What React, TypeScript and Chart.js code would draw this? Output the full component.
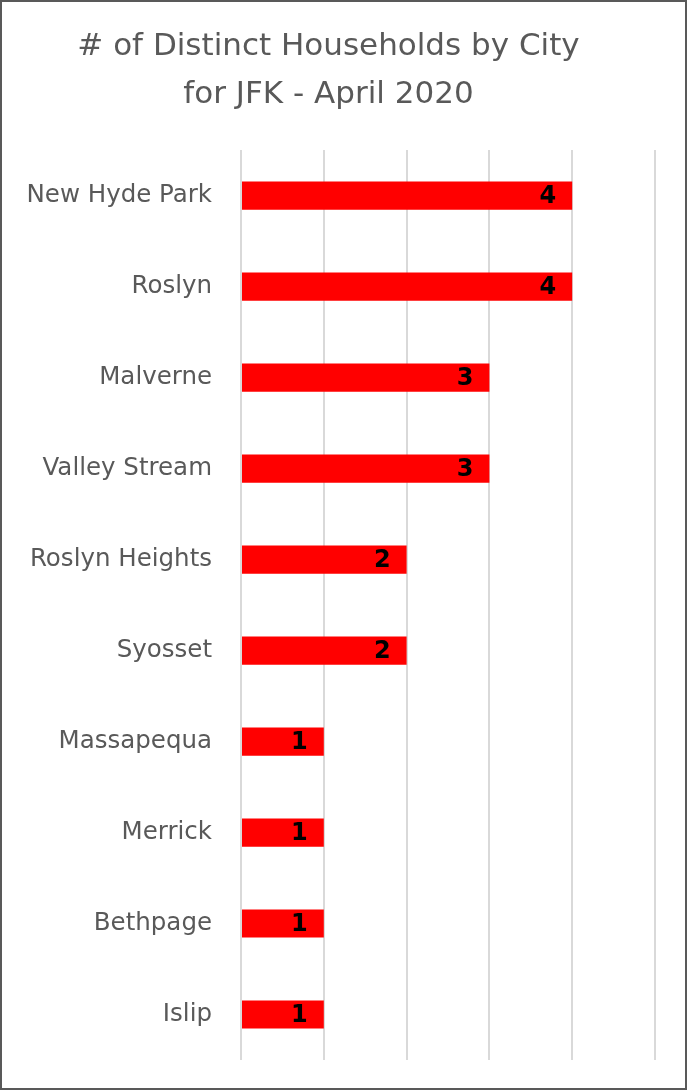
import React, { useEffect, useRef } from "react";
import { Chart, registerables } from "chart.js";

Chart.register(...registerables);

const titleLines = ["# of Distinct Households by City", "for JFK - April 2020"];
const cities = [
  "New Hyde Park",
  "Roslyn",
  "Malverne",
  "Valley Stream",
  "Roslyn Heights",
  "Syosset",
  "Massapequa",
  "Merrick",
  "Bethpage",
  "Islip",
];
const households = [4, 4, 3, 3, 2, 2, 1, 1, 1, 1];
const xMin = 0;
const xMax = 5;

const FONT = "'DejaVu Sans', sans-serif";

const dataLabelPlugin = {
  id: "dataLabelPlugin",
  afterDatasetsDraw(chart: any) {
    const ctx = chart.ctx;
    const meta = chart.getDatasetMeta(0);
    ctx.save();
    ctx.font = `bold 24px ${FONT}`;
    ctx.fillStyle = "#000000";
    ctx.textAlign = "right";
    ctx.textBaseline = "middle";
    meta.data.forEach((bar: any, i: number) => {
      ctx.fillText(String(households[i]), bar.x - 16, bar.y + 1);
    });
    ctx.restore();
  },
};

export default function App() {
  const ref = useRef<HTMLCanvasElement | null>(null);

  useEffect(() => {
    if (!ref.current) return;
    const chart = new Chart(ref.current, {
      type: "bar",
      data: {
        labels: cities,
        datasets: [
          {
            data: households,
            backgroundColor: "#FF0000",
            borderWidth: 0,
            categoryPercentage: 1,
            barPercentage: 0.31,
          },
        ],
      },
      options: {
        indexAxis: "y",
        animation: false,
        responsive: false,
        maintainAspectRatio: false,
        layout: { padding: { left: 0, right: 30, top: 0, bottom: 28 } },
        plugins: {
          legend: { display: false },
          tooltip: { enabled: false },
          title: {
            display: true,
            text: titleLines,
            color: "#595959",
            font: { family: FONT, size: 31, weight: "normal", lineHeight: 1.55 },
            padding: { top: 21, bottom: 31 },
          },
        },
        scales: {
          x: {
            min: xMin,
            max: xMax,
            ticks: { display: false, stepSize: 1 },
            grid: { color: "#d9d9d9", lineWidth: 2, drawTicks: false },
            border: { display: false },
            afterFit(scale: any) {
              scale.height = 0;
              scale.paddingLeft = 0;
              scale.paddingRight = 0;
            },
          },
          y: {
            ticks: {
              color: "#595959",
              font: { family: FONT, size: 24.5 },
              padding: 29,
              autoSkip: false,
            },
            grid: { display: false, drawTicks: false },
            border: { display: false },
            afterFit(scale: any) {
              scale.width = 239;
              scale.paddingTop = 0;
              scale.paddingBottom = 0;
            },
          },
        },
      },
      plugins: [dataLabelPlugin],
    });
    return () => chart.destroy();
  }, []);

  return (
    <div
      style={{
        position: "absolute",
        left: 0,
        top: 0,
        width: 687,
        height: 1090,
        boxSizing: "border-box",
        border: "2px solid #595959",
        background: "#fff",
      }}
    >
      <canvas ref={ref} width={683} height={1086} style={{ display: "block" }} />
    </div>
  );
}
